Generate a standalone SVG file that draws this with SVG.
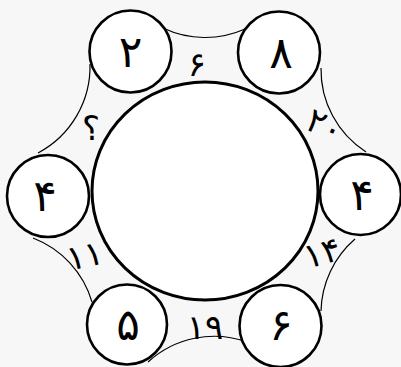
<svg xmlns="http://www.w3.org/2000/svg" width="401" height="367" viewBox="0 0 401 367">
<style>
.bg{fill:#f7f7f7}
.big{fill:#fff;stroke:#000;stroke-width:3}
.sm{fill:#fff;stroke:#000;stroke-width:2.6}
.arc{fill:none;stroke:#000;stroke-width:1.2}
.num{font-family:"DejaVu Sans",sans-serif;font-size:44px;fill:#000;text-anchor:middle}
.lab{font-family:"DejaVu Sans",sans-serif;font-size:34px;fill:#000;text-anchor:middle}
</style>
<rect class="bg" x="0" y="0" width="401" height="367"/>
<g id="connectors">
<path class="arc" d="M163,28 A98,98 0 0 0 245,29"/>
<path class="arc" d="M321,68 A98,98 0 0 0 366,152"/>
<path class="arc" d="M355,239 A98,98 0 0 0 321,311"/>
<path class="arc" d="M247,342 A98,98 0 0 0 148,362"/>
<path class="arc" d="M92,302 A98,98 0 0 0 33,238"/>
<path class="arc" d="M38,153 A98,98 0 0 0 90,64"/>
</g>
<g id="center"><ellipse class="big" cx="205" cy="191" rx="113" ry="109"/></g>
<g id="n1"><circle class="sm" cx="130.5" cy="51.5" r="41"/><text class="num" x="130.5" y="67">۲</text></g>
<g id="n2"><circle class="sm" cx="279" cy="52.5" r="41"/><text class="num" x="281" y="68">۸</text></g>
<g id="n3"><circle class="sm" cx="360.5" cy="194.5" r="40.5"/><text class="num" x="362" y="210">۴</text></g>
<g id="n4"><circle class="sm" cx="280.5" cy="326" r="41"/><text class="num" x="281" y="340">۶</text></g>
<g id="n5"><circle class="sm" cx="127" cy="324.5" r="40"/><text class="num" x="128" y="340">۵</text></g>
<g id="n6"><circle class="sm" cx="48" cy="196" r="41"/><text class="num" x="45" y="211">۴</text></g>
<g id="labels">
<text class="lab" x="197" y="76">۶</text>
<text class="lab" transform="translate(320,136) rotate(25)" x="0" y="0">۲۰</text>
<text class="lab" transform="translate(325,264) rotate(-15)" x="0" y="0">۱۴</text>
<text class="lab" x="205" y="339">۱۹</text>
<text class="lab" transform="translate(87,267) rotate(-12)" x="0" y="0">۱۱</text>
<text class="lab" x="91" y="140" font-size="26">؟</text>
</g>
</svg>
